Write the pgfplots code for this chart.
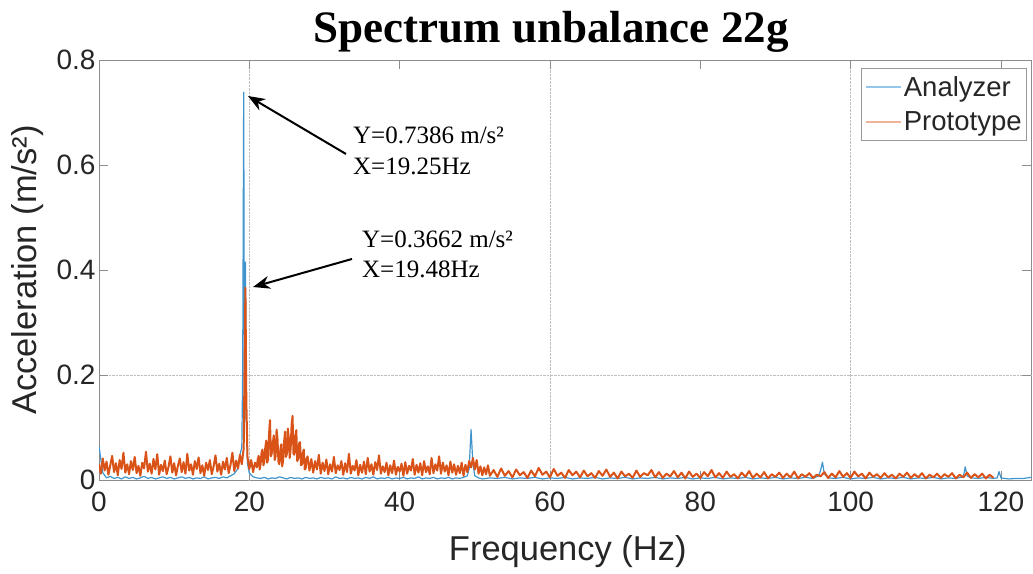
\documentclass[border=0pt]{standalone}
\usepackage{pgfplots}
\pgfplotsset{compat=1.18}
\usepackage{fontspec}
\setmainfont{Liberation Sans}
\newfontfamily\seriffont{Liberation Serif}
\usetikzlibrary{arrows.meta}
\definecolor{mblue}{RGB}{0,114,189}
\definecolor{morange}{RGB}{217,83,25}
\definecolor{lblue}{RGB}{150,198,234}
\definecolor{lorange}{RGB}{240,178,152}
\begin{document}
\begin{tikzpicture}
\useasboundingbox (0,0) rectangle (1033bp,574bp);
\begin{axis}[
  at={(99bp,94bp)}, anchor=south west,
  scale only axis, width=932bp, height=420bp,
  xmin=0, xmax=124, ymin=0, ymax=0.8,
  xtick={0,20,40,60,80,100,120},
  ytick={0,0.2,0.4,0.6,0.8},
  /pgf/number format/assume math mode=true,
  /pgf/number format/fixed,
  tick label style={font=\fontsize{28bp}{33bp}\selectfont, text=black!85},
  xticklabel style={yshift=-8bp},
  tick align=inside, major tick length=9bp,
  axis line style={black!45, line width=0.8bp},
  tick style={black!45, line width=0.8bp},
  extra x ticks={20,60,100}, extra x tick labels={},
  extra y ticks={0.2}, extra y tick labels={},
  extra tick style={grid=major, major grid style={densely dotted, black!25, line width=0.9bp}},
  xlabel={Frequency (Hz)},
  ylabel={Acceleration (m/s²)},
  label style={font=\fontsize{34.5bp}{40bp}\selectfont, text=black!85},
  xlabel style={at={(axis description cs:0.503,-0.1905)}, anchor=base},
  ylabel style={at={(axis description cs:-0.0676,0.5)}, anchor=base},
  legend cell align=left,
  legend style={at={(0.9957,0.981)}, anchor=north east, draw=black!40, line width=0.8bp,
    font=\fontsize{27.5bp}{33bp}\selectfont, text=black!85, inner xsep=3bp, inner ysep=6bp, row sep=10bp},
  legend image code/.code={\draw[#1] (0bp,0bp) -- (35bp,0bp);},
]
\addlegendimage{lblue, line width=2.2bp}
\addlegendentry{Analyzer}
\addlegendimage{lorange, line width=2.2bp}
\addlegendentry{Prototype}
\addplot[forget plot, mblue!75, line width=1.2bp, line join=round] table {
x y
0 0.065
0.25 0.038
0.5 0.014
1 0.004
1.5 0.007
2 0.003
2.5 0.005
3 0.002
3.5 0.006
4 0.003
4.5 0.005
5 0.002
5.5 0.004
6 0.007
6.5 0.003
7 0.005
7.5 0.002
8 0.004
8.5 0.006
9 0.003
9.5 0.005
10 0.002
10.5 0.004
11 0.006
11.5 0.003
12 0.005
12.5 0.002
13 0.004
13.5 0.003
14 0.006
14.5 0.002
15 0.004
15.5 0.005
16 0.003
16.5 0.006
17 0.004
17.5 0.008
18 0.012
18.5 0.022
18.75 0.048
19 0.062
19.12 0.21
19.25 0.7386
19.37 0.11
19.48 0.415
19.6 0.12
19.75 0.032
20 0.013
20.5 0.006
21 0.004
21.5 0.003
22 0.005
22.5 0.002
23 0.004
23.5 0.003
24 0.006
24.5 0.004
25 0.002
25.5 0.005
26 0.003
26.5 0.004
27 0.002
27.5 0.005
28 0.003
28.5 0.004
29 0.002
29.5 0.005
30 0.003
30.5 0.004
31 0.002
31.5 0.006
32 0.003
32.5 0.004
33 0.002
33.5 0.005
34 0.003
34.5 0.004
35 0.002
35.5 0.005
36 0.003
36.5 0.006
37 0.002
37.5 0.004
38 0.003
38.5 0.005
39 0.002
39.5 0.004
40 0.003
40.5 0.005
41 0.002
41.5 0.004
42 0.003
42.5 0.006
43 0.002
43.5 0.004
44 0.003
44.5 0.005
45 0.002
45.5 0.004
46 0.003
46.5 0.005
47 0.002
47.5 0.004
48 0.003
48.5 0.005
49 0.008
49.25 0.022
49.5 0.096
49.75 0.030
50 0.008
50.5 0.004
51 0.002
52 0.004
53 0.003
54 0.005
55 0.002
56 0.004
57 0.003
58 0.005
59 0.002
60 0.004
61 0.003
62 0.005
63 0.002
64 0.004
65 0.003
66 0.005
67 0.002
68 0.004
69 0.003
70 0.005
71 0.002
72 0.004
73 0.003
74 0.005
75 0.002
76 0.004
77 0.003
78 0.005
79 0.002
80 0.004
81 0.003
82 0.005
83 0.002
84 0.004
85 0.003
86 0.005
87 0.002
88 0.004
89 0.003
90 0.005
91 0.002
92 0.004
93 0.003
94 0.005
95 0.003
95.75 0.008
96 0.018
96.25 0.034
96.5 0.012
97 0.004
98 0.003
99 0.005
100 0.002
101 0.004
102 0.003
103 0.005
104 0.002
105 0.004
106 0.003
107 0.005
108 0.002
109 0.004
110 0.003
111 0.005
112 0.002
113 0.004
114 0.003
115 0.006
115.25 0.025
115.5 0.008
116 0.004
117 0.003
118 0.005
119 0.003
119.5 0.004
119.75 0.016
120 0.004
121 0.002
122 0.003
123 0.003
124 0.005
};
\addplot[forget plot, morange, line width=2bp, line join=round] table {
x y
0 0.030
0.25 0.012
0.5 0.041
0.75 0.018
1 0.035
1.25 0.010
1.5 0.028
1.75 0.046
2 0.015
2.25 0.032
2.5 0.009
2.75 0.038
3 0.021
3.25 0.052
3.5 0.014
3.75 0.030
4 0.011
4.25 0.036
4.5 0.019
4.75 0.044
5 0.013
5.25 0.027
5.5 0.008
5.75 0.033
6 0.022
6.25 0.054
6.5 0.016
6.75 0.031
7 0.012
7.25 0.040
7.5 0.020
7.75 0.049
8 0.010
8.25 0.029
8.5 0.017
8.75 0.037
9 0.011
9.25 0.025
9.5 0.045
9.75 0.014
10 0.032
10.25 0.009
10.5 0.027
10.75 0.041
11 0.015
11.25 0.034
11.5 0.012
11.75 0.050
12 0.018
12.25 0.030
12.5 0.010
12.75 0.036
13 0.021
13.25 0.043
13.5 0.013
13.75 0.028
14 0.008
14.25 0.033
14.5 0.019
14.75 0.038
15 0.011
15.25 0.026
15.5 0.047
15.75 0.016
16 0.031
16.25 0.010
16.5 0.035
16.75 0.020
17 0.042
17.25 0.013
17.5 0.029
17.75 0.052
18 0.017
18.25 0.037
18.5 0.022
18.75 0.048
19 0.030
19.25 0.060
19.48 0.3662
19.6 0.152
19.75 0.045
20 0.021
20.25 0.038
20.5 0.015
20.75 0.033
21 0.024
21.125 0.040
21.25 0.046
21.375 0.020
21.5 0.030
21.625 0.052
21.75 0.058
21.875 0.028
22 0.035
22.125 0.062
22.25 0.075
22.375 0.033
22.5 0.040
22.625 0.088
22.75 0.114
22.875 0.045
23 0.052
23.125 0.070
23.25 0.085
23.375 0.038
23.5 0.045
23.625 0.096
23.75 0.078
23.875 0.035
24 0.030
24.125 0.058
24.25 0.068
24.375 0.026
24.5 0.038
24.625 0.072
24.75 0.092
24.875 0.044
25 0.050
25.125 0.098
25.25 0.080
25.375 0.042
25.5 0.060
25.625 0.105
25.75 0.122
25.875 0.050
26 0.048
26.125 0.083
26.25 0.095
26.375 0.036
26.5 0.040
26.625 0.070
26.75 0.072
26.875 0.028
27 0.030
27.125 0.052
27.25 0.058
27.375 0.020
27.5 0.022
27.625 0.041
27.75 0.045
28 0.018
28.25 0.040
28.5 0.014
28.75 0.036
29 0.020
29.25 0.048
29.5 0.012
29.75 0.033
30 0.017
30.25 0.039
30.5 0.011
30.75 0.030
31 0.016
31.25 0.044
31.5 0.013
31.75 0.028
32 0.019
32.25 0.036
32.5 0.010
32.75 0.032
33 0.015
33.25 0.050
33.5 0.012
33.75 0.027
34 0.018
34.25 0.038
34.5 0.009
34.75 0.029
35 0.014
35.25 0.035
35.5 0.011
35.75 0.042
36 0.016
36.25 0.030
36.5 0.010
36.75 0.034
37 0.019
37.25 0.047
37.5 0.012
37.75 0.026
38 0.015
38.25 0.033
38.5 0.009
38.75 0.028
39 0.013
39.25 0.037
39.5 0.010
39.75 0.025
40 0.016
40.25 0.031
40.5 0.008
40.75 0.034
41 0.012
41.25 0.027
41.5 0.018
41.75 0.040
42 0.010
42.25 0.029
42.5 0.014
42.75 0.032
43 0.009
43.25 0.036
43.5 0.015
43.75 0.026
44 0.011
44.25 0.042
44.5 0.013
44.75 0.030
45 0.018
45.25 0.045
45.5 0.012
45.75 0.033
46 0.016
46.25 0.028
46.5 0.009
46.75 0.035
47 0.014
47.25 0.030
47.5 0.010
47.75 0.027
48 0.013
48.25 0.033
48.5 0.008
48.75 0.029
49 0.015
49.25 0.036
49.5 0.024
49.75 0.042
50 0.020
50.25 0.038
50.5 0.012
50.75 0.026
51 0.009
51.25 0.024
51.5 0.011
51.75 0.028
52 0.008
52.5 0.019
53 0.006
53.5 0.022
54 0.008
54.5 0.017
55 0.005
55.5 0.020
56 0.009
56.5 0.015
57 0.004
57.5 0.018
58 0.007
58.5 0.023
59 0.010
59.5 0.016
60 0.005
60.5 0.021
61 0.008
61.5 0.014
62 0.004
62.5 0.019
63 0.009
63.5 0.016
64 0.005
64.5 0.018
65 0.007
65.5 0.013
66 0.004
66.5 0.017
67 0.008
67.5 0.020
68 0.006
68.5 0.014
69 0.003
69.5 0.016
70 0.007
70.5 0.012
71 0.004
71.5 0.018
72 0.006
72.5 0.013
73 0.009
73.5 0.019
74 0.005
74.5 0.015
75 0.004
75.5 0.012
76 0.007
76.5 0.017
77 0.005
77.5 0.014
78 0.003
78.5 0.016
79 0.006
79.5 0.012
80 0.004
80.5 0.015
81 0.007
81.5 0.019
82 0.005
82.5 0.013
83 0.004
83.5 0.016
84 0.006
84.5 0.011
85 0.003
85.5 0.014
86 0.006
86.5 0.017
87 0.004
87.5 0.012
88 0.005
88.5 0.015
89 0.003
89.5 0.011
90 0.006
90.5 0.014
91 0.004
91.5 0.012
92 0.005
92.5 0.016
93 0.003
93.5 0.011
94 0.006
94.5 0.013
95 0.004
95.5 0.010
96 0.007
96.5 0.015
97 0.004
97.5 0.012
98 0.005
98.5 0.017
99 0.006
99.5 0.013
100 0.004
100.5 0.016
101 0.007
101.5 0.012
102 0.003
102.5 0.014
103 0.006
103.5 0.011
104 0.004
104.5 0.013
105 0.005
105.5 0.010
106 0.003
106.5 0.012
107 0.006
107.5 0.014
108 0.004
108.5 0.011
109 0.005
109.5 0.013
110 0.003
110.5 0.010
111 0.005
111.5 0.012
112 0.004
112.5 0.011
113 0.006
113.5 0.013
114 0.003
114.5 0.010
115 0.005
115.5 0.014
116 0.004
116.5 0.011
117 0.005
117.5 0.012
118 0.003
118.5 0.010
119 0.004
};
\draw[-{Stealth[length=17bp,width=13bp]}, line width=2bp] (axis cs:32.86,0.621) -- (axis cs:19.82,0.7314);
\draw[-{Stealth[length=17bp,width=13bp]}, line width=2bp] (axis cs:33.66,0.421) -- (axis cs:20.49,0.3676);
\node[anchor=base west, inner sep=0pt, font=\seriffont\fontsize{25bp}{30bp}\selectfont] at (axis cs:33.79,0.6419) {Y=0.7386 m/s²};
\node[anchor=base west, inner sep=0pt, font=\seriffont\fontsize{25bp}{30bp}\selectfont] at (axis cs:33.79,0.581) {X=19.25Hz};
\node[anchor=base west, inner sep=0pt, font=\seriffont\fontsize{25bp}{30bp}\selectfont] at (axis cs:34.99,0.4438) {Y=0.3662 m/s²};
\node[anchor=base west, inner sep=0pt, font=\seriffont\fontsize{25bp}{30bp}\selectfont] at (axis cs:34.99,0.3848) {X=19.48Hz};
\end{axis}
\node[anchor=base, inner sep=0pt, font=\seriffont\bfseries\fontsize{45bp}{50bp}\selectfont] at (551bp,531bp) {Spectrum unbalance 22g};
\end{tikzpicture}
\end{document}
